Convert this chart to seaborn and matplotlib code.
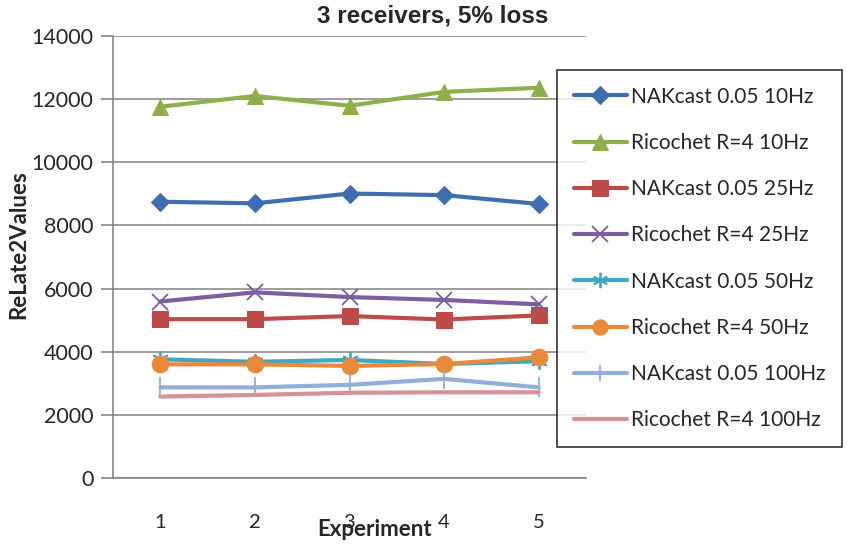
import matplotlib
matplotlib.use("Agg")
import matplotlib.pyplot as plt
import seaborn as sns
import pandas as pd

sns.set_theme(style="white")
plt.rcParams["font.family"] = ["Lato", "DejaVu Sans"]

experiments = [1, 2, 3, 4, 5]
series_names = [
    "NAKcast 0.05 10Hz",
    "Ricochet R=4 10Hz",
    "NAKcast 0.05 25Hz",
    "Ricochet R=4 25Hz",
    "NAKcast 0.05 50Hz",
    "Ricochet R=4 50Hz",
    "NAKcast 0.05 100Hz",
    "Ricochet R=4 100Hz",
]
nakcast_10 = [8750, 8700, 9010, 8960, 8680]
ricochet_10 = [11760, 12100, 11790, 12230, 12360]
nakcast_25 = [5030, 5030, 5130, 5020, 5150]
ricochet_25 = [5590, 5880, 5730, 5640, 5500]
nakcast_50 = [3760, 3680, 3740, 3610, 3700]
ricochet_50 = [3600, 3600, 3550, 3610, 3820]
nakcast_100 = [2870, 2870, 2950, 3140, 2870]
ricochet_100 = [2580, 2630, 2700, 2715, 2715]
values = [nakcast_10, ricochet_10, nakcast_25, ricochet_25,
          nakcast_50, ricochet_50, nakcast_100, ricochet_100]

colors = ["#3E6DB0", "#8DB04A", "#BE4B48", "#7D5FA0",
          "#3FA7C0", "#E98A3A", "#93AEDA", "#D8909A"]
markers = ["D", "^", "s", "x", (6, 2, 0), "o", "|", None]
msizes = [9, 12, 12, 12, 12, 12, 14, 0]

df = pd.DataFrame({
    "Experiment": experiments * len(series_names),
    "Value": [v for vals in values for v in vals],
    "Series": [s for s in series_names for _ in experiments],
})

fig = plt.figure(figsize=(8.48, 5.45), dpi=100)
ax = fig.add_axes([113 / 848, 1 - 478 / 545, (586 - 113) / 848, (478 - 36) / 545])

for name, col, mk, ms in zip(series_names, colors, markers, msizes):
    sub = df[df["Series"] == name]
    kw = dict(marker=mk, markersize=ms, markeredgecolor=col, markerfacecolor=col)
    if mk in ("x", "|") or isinstance(mk, tuple):
        kw["markeredgewidth"] = 1.3
    if mk is None:
        kw = {}
    sns.lineplot(data=sub, x="Experiment", y="Value", ax=ax, color=col,
                 linewidth=3.0, label=name, **kw)

ax.set_xlim(0.5, 5.5)
ax.set_ylim(0, 14000)
ax.set_yticks(range(0, 14001, 2000))
ax.set_xticks(experiments)
ax.set_xticks([0.5, 1.5, 2.5, 3.5, 4.5, 5.5], minor=True)
ax.tick_params(axis="x", which="major", length=0, pad=26, labelsize=14.5)
ax.tick_params(axis="x", which="minor", length=6, width=1.2, color="#868686", direction="out")
ax.tick_params(axis="y", length=9, width=1.2, color="#868686", direction="out",
               labelsize=15.5, pad=5, left=True)
ax.yaxis.grid(True, color="#8C8C8C", linewidth=1.2)
ax.xaxis.grid(False)
for side in ("top", "right"):
    ax.spines[side].set_visible(False)
for side in ("left", "bottom"):
    ax.spines[side].set_color("#868686")
    ax.spines[side].set_linewidth(1.2)

ax.set_xlabel("")
ax.set_ylabel("")
fig.text(375 / 848, 1 - 530 / 545, "Experiment", ha="center", va="center",
         fontsize=16, fontweight="bold")
fig.text(19 / 848, 1 - 245 / 545, "ReLate2Values", ha="center", va="center",
         rotation=90, fontsize=16, fontweight="bold")
fig.text(433 / 848, 1 - 16 / 545, "3 receivers, 5% loss", ha="center", va="center",
         fontsize=17.5, fontweight="bold", family=["Liberation Sans", "DejaVu Sans"])

handles, labels = ax.get_legend_handles_labels()
ax.get_legend().remove()
leg = fig.legend(handles, labels, loc="upper left",
                 bbox_to_anchor=(557 / 848, 1 - 70 / 545),
                 frameon=True, fancybox=False, fontsize=15,
                 handlelength=2.55, handletextpad=0.2, labelspacing=1.26,
                 borderpad=0.8, borderaxespad=0)
leg.get_frame().set_edgecolor("black")
leg.get_frame().set_linewidth(1.2)
for h in leg.legend_handles:
    h.set_markersize(min(h.get_markersize(), 11))

fig.savefig("out.png", dpi=100, facecolor="white")
